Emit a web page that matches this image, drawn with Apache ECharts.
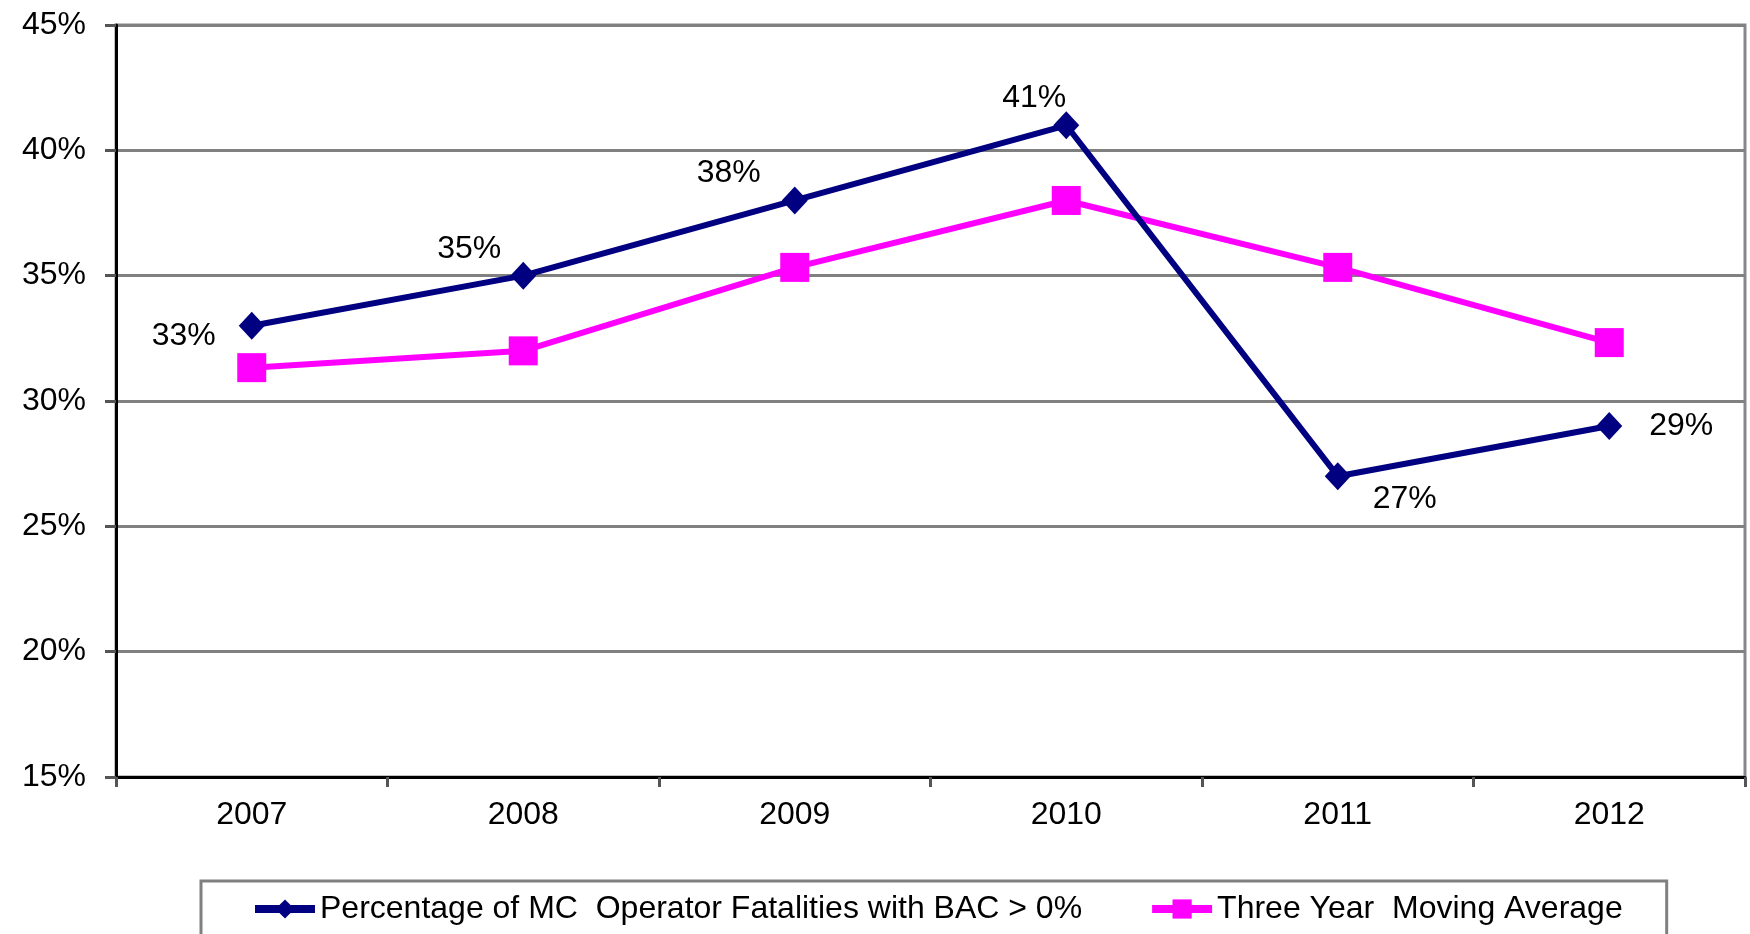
<!DOCTYPE html>
<html>
<head>
<meta charset="utf-8">
<script src="https://cdn.jsdelivr.net/npm/echarts@6/dist/echarts.min.js"></script>
<style>
  html, body { margin: 0; padding: 0; background: #fff; }
  #chart { width: 1750px; height: 934px; }
</style>
</head>
<body>
<div id="chart"></div>
<script>
var years = ['2007', '2008', '2009', '2010', '2011', '2012'];
var bacPct = [33, 35, 38, 41, 27, 29];
var movingAvg = [31.33, 32, 35.33, 38, 35.33, 32.33];
// label placement for each point of the BAC series
var labelPos = [
    {position: 'left', offset: [-18, 10]},
    {position: 'top', offset: [-54, 9]},
    {position: 'top', offset: [-66, 8]},
    {position: 'top', offset: [-32, 8]},
    {position: 'bottom', offset: [67, -12]},
    {position: 'right', offset: [22, 0]}
];

var chart = echarts.init(document.getElementById('chart'));
var font = 'Liberation Sans, Arial, sans-serif';

chart.setOption({
    animation: false,
    textStyle: {fontFamily: font},
    grid: {left: 116, right: 5, top: 25, bottom: 157, show: true, borderColor: '#888', borderWidth: 3},
    legend: {
        top: 881,
        left: 201,
        padding: [12, 44, 70, 50],
        borderColor: '#808080',
        borderWidth: 3,
        itemGap: 66,
        itemWidth: 60,
        itemHeight: 24,
        lineStyle: {width: 8},
        textStyle: {fontSize: 32, color: '#000', fontFamily: font},
        data: ['Percentage of MC  Operator Fatalities with BAC > 0%', 'Three Year  Moving Average']
    },
    xAxis: {
        type: 'category',
        data: years,
        boundaryGap: true,
        axisLine: {lineStyle: {color: '#000', width: 3}},
        axisTick: {show: true, length: 10, lineStyle: {color: '#555', width: 3}},
        axisLabel: {fontSize: 32, color: '#000', margin: 22}
    },
    yAxis: {
        type: 'value',
        min: 15,
        max: 45,
        interval: 5,
        axisLine: {show: true, lineStyle: {color: '#000', width: 3}},
        axisTick: {show: true, length: 11, lineStyle: {color: '#555', width: 3}},
        splitLine: {lineStyle: {color: '#808080', width: 3}},
        axisLabel: {fontSize: 32, color: '#000', margin: 30, formatter: '{value}%'}
    },
    series: [
        {
            name: 'Percentage of MC  Operator Fatalities with BAC > 0%',
            type: 'line',
            z: 3,
            data: bacPct.map(function (v, i) {
                return {value: v, label: labelPos[i]};
            }),
            symbol: 'diamond',
            symbolSize: [26, 28],
            lineStyle: {color: '#000080', width: 6},
            itemStyle: {color: '#000080'},
            label: {show: true, fontSize: 32, color: '#000', formatter: '{c}%'}
        },
        {
            name: 'Three Year  Moving Average',
            type: 'line',
            z: 2,
            data: movingAvg,
            symbol: 'rect',
            symbolSize: [29, 29],
            lineStyle: {color: '#FF00FF', width: 6},
            itemStyle: {color: '#FF00FF'}
        }
    ]
});
</script>
</body>
</html>
